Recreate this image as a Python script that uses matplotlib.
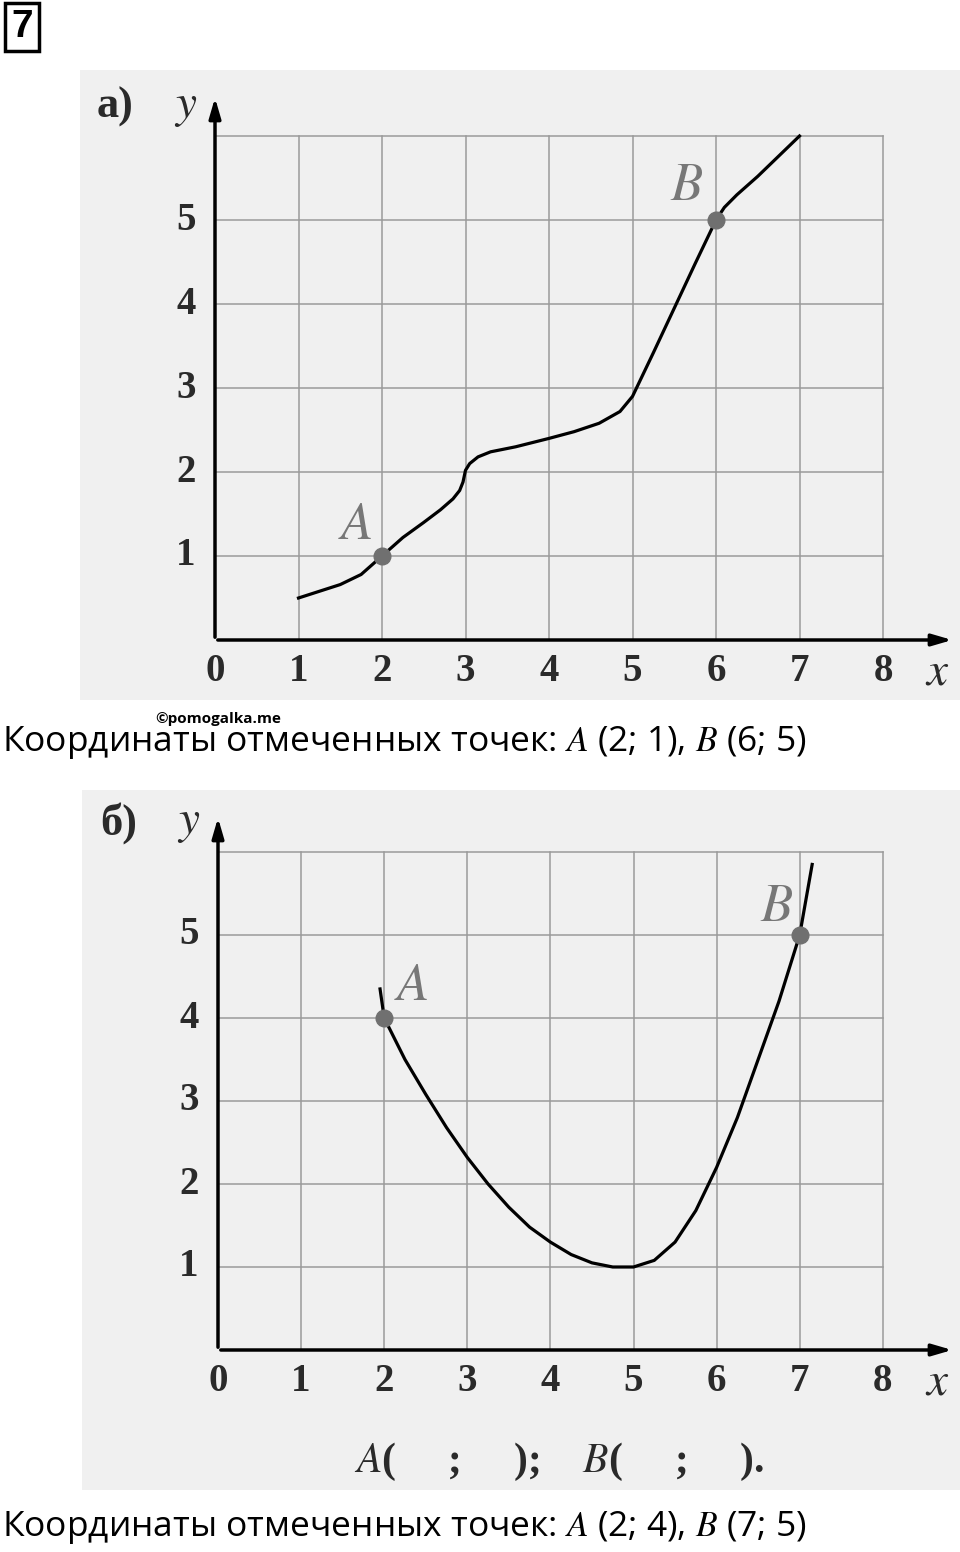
import matplotlib
matplotlib.use("Agg")
import matplotlib.pyplot as plt
from matplotlib.patches import Rectangle

plt.rcParams['mathtext.fontset'] = 'stix'

W, H = 960, 1552

# panel a curve
xa = [1, 1.25, 1.5, 1.75, 2, 2.25, 2.5, 2.7, 2.85, 2.93, 2.97, 3.0, 3.05, 3.15, 3.3, 3.6,
      4, 4.3, 4.6, 4.85, 5, 5.25, 5.5, 5.75, 6, 6.1, 6.25, 6.5, 6.75, 7]
ya = [0.5, 0.58, 0.66, 0.78, 1, 1.22, 1.4, 1.55, 1.68, 1.78, 1.88, 2.02, 2.1, 2.18, 2.24, 2.3,
      2.4, 2.48, 2.58, 2.72, 2.9, 3.42, 3.95, 4.48, 5, 5.15, 5.3, 5.52, 5.76, 6]
pts_a = {"A": (2, 1), "B": (6, 5)}

# panel b curve
xb = [1.95, 2, 2.25, 2.5, 2.75, 3, 3.25, 3.5, 3.75, 4, 4.25, 4.5, 4.75, 5, 5.25, 5.5,
      5.75, 6, 6.25, 6.5, 6.75, 7, 7.15]
yb = [4.35, 4.0, 3.5, 3.08, 2.68, 2.32, 2.0, 1.72, 1.48, 1.3, 1.15, 1.05, 1.0, 1.0, 1.08, 1.3,
      1.68, 2.2, 2.8, 3.5, 4.2, 5.0, 5.85]
pts_b = {"A": (2, 4), "B": (7, 5)}

xticks = [0, 1, 2, 3, 4, 5, 6, 7, 8]
yticks = [1, 2, 3, 4, 5]

fig = plt.figure(figsize=(W / 100, H / 100), dpi=100)
fig.patch.set_facecolor("white")


def panel(box, origin, unit, xs, ys, pts, label, label_off):
    left, top, right, bottom = box
    ox, oy = origin
    ux, uy = unit
    ax = fig.add_axes([left / W, 1 - bottom / H, (right - left) / W, (bottom - top) / H])
    ax.set_xlim((left - ox) / ux, (right - ox) / ux)
    ax.set_ylim((oy - bottom) / uy, (oy - top) / uy)
    ax.axis("off")
    ax.add_patch(Rectangle((0, 0), 1, 1, transform=ax.transAxes, fc="#f0f0f0", ec="none", zorder=0))
    for x in range(1, 9):
        ax.plot([x, x], [0, 6], color="#9a9a9a", lw=1.1, zorder=1)
    for y in range(1, 7):
        ax.plot([0, 8], [y, y], color="#9a9a9a", lw=1.1, zorder=1)
    xe = (right - 5 - ox) / ux
    ye = (oy - top - 25) / uy
    ax.annotate("", xy=(xe, 0), xytext=(0, 0),
                arrowprops=dict(arrowstyle="-|>,head_length=1.2,head_width=0.35", lw=2.5, color="black"))
    ax.annotate("", xy=(0, ye), xytext=(0, 0),
                arrowprops=dict(arrowstyle="-|>,head_length=1.2,head_width=0.35", lw=2.5, color="black"))
    ax.plot(xs, ys, color="black", lw=2.3, zorder=3, solid_joinstyle="round")
    for name, (px, py) in pts.items():
        ax.plot(px, py, "o", color="#707070", ms=12, zorder=4)
        dx, dy = label_off[name]
        ax.text(px + dx, py + dy, "$\\mathit{" + name + "}$", fontsize=38, color="#777777",
                ha="center", va="center", zorder=5)
    tf = dict(fontsize=28, family="Liberation Serif", fontweight="bold", color="#2a2a2a")
    for x in xticks:
        ax.text(x, -0.38, str(x), ha="center", va="center", **tf)
    for y in yticks:
        ax.text(-0.35, y, str(y), ha="center", va="center", **tf)
    ax.text(8.65, -0.38, "$x$", fontsize=34, ha="center", va="center", color="#2a2a2a")
    ax.text(-0.35, 6.35, "$y$", fontsize=34, ha="center", va="center", color="#2a2a2a")
    ax.text(-1.2, 6.35, label, ha="center", va="center", fontsize=32, family="Liberation Serif",
            fontweight="bold", color="#2a2a2a")
    return ax


panel((80, 70, 960, 700), (215, 640), (83.5, 84), xa, ya, pts_a, "а)",
      {"A": (-0.32, 0.38), "B": (-0.35, 0.42)})
axb = panel((82, 790, 960, 1490), (218, 1350), (83.1, 83), xb, yb, pts_b, "б)",
            {"A": (0.32, 0.4), "B": (-0.28, 0.35)})
axb.text(4.1, -1.35, "$\\mathbf{\\mathit{A}}$(     ;     );    $\\mathbf{\\mathit{B}}$(     ;     ).",
         fontsize=30, family="Liberation Serif", fontweight="bold", color="#2a2a2a",
         ha="center", va="center")

# number box
fig.text(22 / W, 1 - 27 / H, "7", fontsize=28, family="Liberation Sans", fontweight="bold",
         ha="center", va="center",
         bbox=dict(boxstyle="square,pad=0.15", fc="white", ec="black", lw=2.5))

cap = dict(fontsize=25.5, family="Open Sans", va="center", ha="left")
fig.text(2 / W, 1 - 742 / H, "Координаты отмеченных точек: $A$ (2; 1), $B$ (6; 5)", **cap)
fig.text(2 / W, 1 - 1528 / H, "Координаты отмеченных точек: $A$ (2; 4), $B$ (7; 5)", **cap)
fig.text(155 / W, 1 - 719 / H, "©pomogalka.me", fontsize=11, family="Open Sans", fontweight="bold",
         va="center", ha="left")

fig.savefig("out.png", dpi=100)
